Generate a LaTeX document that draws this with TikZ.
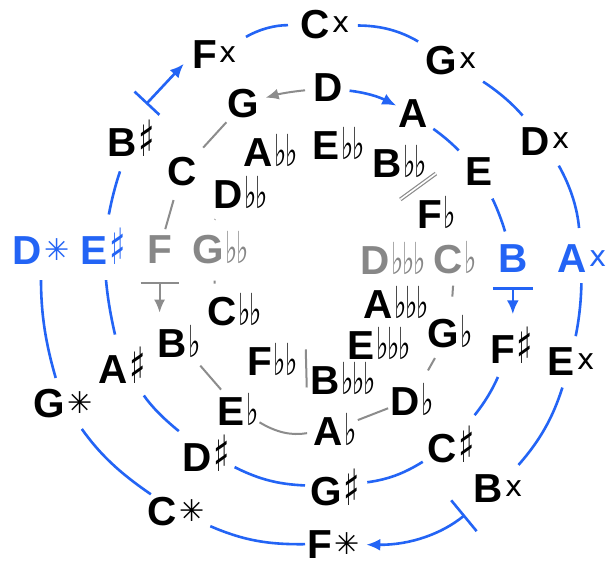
\documentclass[tikz,border=0pt]{standalone}
\usepackage{fontspec}
\usepackage{graphicx}
\setmainfont{Liberation Sans}
\newfontfamily\accfont{DejaVu Sans}
\usetikzlibrary{arrows.meta,calc}
\definecolor{bl}{RGB}{35,100,245}
\definecolor{grt}{RGB}{135,135,135}
\definecolor{grl}{RGB}{140,140,140}
\newcommand{\shg}{\scalebox{0.68}[1]{\accfont\mdseries\fontsize{50}{50}\selectfont ♯}}
\newcommand{\flg}{\scalebox{0.59}[1]{\accfont\mdseries\fontsize{44}{44}\selectfont ♭}}
\newcommand{\Sh}{\kern2pt\shg}
\newcommand{\Fl}{\kern2pt\flg}
\newcommand{\FFl}{\kern2pt\flg\kern-1pt\flg}
\newcommand{\FFFl}{\kern2pt\flg\kern-1pt\flg\kern-1pt\flg}
\newcommand{\Dsh}{\kern3pt\raisebox{6pt}{\accfont\mdseries\fontsize{29}{29}\selectfont x}}
\newcommand{\Tsh}{\kern3pt\raisebox{4pt}{\accfont\mdseries\fontsize{30}{30}\selectfont ✳}}
\begin{document}
\begin{tikzpicture}[x=1pt,y=-1pt,
  lab/.style={inner sep=0pt, anchor=base west, font=\fontsize{40.5}{40.5}\selectfont\bfseries, text=black},
  blab/.style={lab, text=bl},
  glab/.style={lab, text=grt},
  bline/.style={draw=bl, line width=2.6pt},
  gline/.style={draw=grl, line width=2pt},
  btip/.style={-{Latex[length=14pt,width=12pt]}},
  bbar/.style={{Bar[width=40pt]}-{Latex[length=14pt,width=12pt]}}
]
\fill[white] (0,0) rectangle (613,567);
\useasboundingbox (0,0) rectangle (613,567);
% outer ring
\node[lab] (Fx) at (192,69) {F\Dsh};
\node[lab] (Cx) at (300,39) {C\Dsh};
\node[lab] (Gx) at (425,75) {G\Dsh};
\node[lab] (Dx) at (520,155) {D\Dsh};
\node[blab] (Ax) at (557,272) {A\Dsh};
\node[lab] (Ex) at (547,375) {E\Dsh};
\node[lab] (Bx) at (473,502) {B\Dsh};
\node[lab] (Ft) at (307,558) {F\Tsh};
\node[lab] (Ct) at (147,525) {C\Tsh};
\node[lab] (Gt) at (33,417) {G\Tsh};
\node[blab] (Dt) at (12,264) {D\Tsh};
% middle ring
\node[blab] (Es) at (80,264) {E\Sh};
\node[lab] (Bs) at (107,157) {B\Sh};
\node[lab] (G) at (227,118) {G};
\node[lab] (D) at (313,102) {D};
\node[lab] (A) at (398,128) {A};
\node[lab] (E) at (465,185) {E};
\node[blab] (B) at (498,272) {B};
\node[lab] (Fs) at (490,363) {F\Sh};
\node[lab] (Cs) at (427,462) {C\Sh};
\node[lab] (Gs) at (310,505) {G\Sh};
\node[lab] (Ds) at (182,471) {D\Sh};
\node[lab] (As) at (98,383) {A\Sh};
% inner flats
\node[lab] (C) at (167,185) {C};
\node[glab] (F) at (147,263) {F};
\node[glab] (Gff) at (192,263) {G\FFl};
\node[lab] (Dff) at (213,208) {D\FFl};
\node[lab] (Aff) at (243,166) {A\FFl};
\node[lab] (Eff) at (312,160) {E\FFl};
\node[lab] (Bff) at (372,177) {B\FFl};
\node[lab] (Ff) at (417,228) {F\Fl};
\node[glab] (Cf) at (433,273) {C\Fl};
\node[glab] (Dfff) at (360,274) {D\FFFl};
\node[lab] (Afff) at (363,318) {A\FFFl};
\node[lab] (Gf) at (427,347) {G\Fl};
\node[lab] (Efff) at (347,359) {E\FFFl};
\node[lab] (Bfff) at (310,394) {B\FFFl};
\node[lab] (Fff) at (247,375) {F\FFl};
\node[lab] (Cff) at (207,325) {C\FFl};
\node[lab] (Bf) at (157,357) {B\Fl};
\node[lab] (Ef) at (217,425) {E\Fl};
\node[lab] (Af) at (313,445) {A\Fl};
\node[lab] (Df) at (390,415) {D\Fl};
% blue outer connectors
\draw[bline, shorten <=10pt, shorten >=12pt] (Fx) to[bend left=15] (Cx);
\draw[bline, shorten <=8pt, shorten >=10pt] (Cx) to[bend left=15] (Gx);
\draw[bline, shorten <=11pt, shorten >=15pt] (Gx) to[bend left=8] (Dx);
\draw[bline, shorten <=12pt, shorten >=16pt] (Dx) to[bend left=12] (Ax);
\draw[bline, shorten <=11pt, shorten >=11pt] (Ax) to[bend left=5] (Ex);
\draw[bline, shorten <=13pt, shorten >=12pt] (Ex) to[bend left=12] (Bx);
\draw[bline, bbar, shorten <=20pt, shorten >=6pt] (Bx) to[bend left=20] (Ft);
\draw[bline, shorten <=2pt, shorten >=6pt] (Ft) to[bend left=12] (Ct);
\draw[bline, shorten <=4pt, shorten >=14pt] (Ct) to[bend left=10] (Gt);
\draw[bline, shorten <=11pt, shorten >=16pt] (Gt) to[bend left=8] (Dt);
% blue middle connectors
\draw[bline, btip, shorten <=7pt, shorten >=2pt] (D) to[bend left=10] (A);
\draw[bline, shorten <=7pt, shorten >=9pt] (A) to[bend left=5] (E);
\draw[bline, shorten <=15pt, shorten >=13pt] (E) to[bend left=5] (B);
\draw[bline, bbar, shorten <=15pt, shorten >=12pt] (B.south) -- (B.south |- Fs.north);
\draw[bline, shorten <=15pt, shorten >=13pt] (Fs) to[bend left=8] (Cs);
\draw[bline, shorten <=5pt, shorten >=7pt] (Cs) to[bend left=12] (Gs);
\draw[bline, shorten <=5pt, shorten >=5pt] (Gs) to[bend left=12] (Ds);
\draw[bline, shorten <=5pt, shorten >=15pt] (Ds) to[bend left=8] (As);
\draw[bline, shorten <=12pt, shorten >=16pt] (As) to[bend left=4] (Es);
\draw[bline, shorten <=13pt, shorten >=15pt] (Es) to[bend left=4] (Bs);
\draw[bline, {Bar[width=34pt]}-{Latex[length=14pt,width=12pt]}, shorten <=22pt, shorten >=12pt] (Bs.north) -- (Fx.west);
% grey connectors
\draw[gline, -{Latex[length=13pt,width=11pt]}, shorten <=8pt, shorten >=7pt] (D) to[bend right=5] (G);
\draw[gline, shorten <=5pt, shorten >=12pt] (G) -- (C);
\draw[gline, shorten <=15pt, shorten >=6pt] (C) -- (F);
\draw[gline, {Bar[width=38pt]}-{Latex[length=13pt,width=11pt]}, shorten <=19pt, shorten >=12pt] (F.south) -- (F.south |- Bf.north);
\draw[gline, shorten <=11pt, shorten >=4pt] (Bf) -- (Ef);
\draw[gline, shorten <=1pt, shorten >=6pt] (Ef) to[bend right=20] (Af);
\draw[gline, shorten <=1pt, shorten >=2pt] (Af) -- (Df);
\draw[gline, shorten <=14pt, shorten >=12pt] (Df) -- (Gf);
\draw[gline, shorten <=12pt, shorten >=18pt] (Cf) -- (Gf);
\draw[gline, shorten <=14pt, shorten >=14pt] ([xshift=10pt]Dff.south west) -- ([xshift=15pt]Gff.north west);
\draw[gline, shorten <=17pt, shorten >=9pt] ([xshift=22pt]Gff.south west) -- ([xshift=8pt]Cff.north west);
\coordinate (mFB) at ($(Ff)!0.5!(Bff)$);
\draw[draw=grl, line width=1.2pt, double=white, double distance=1.6pt] ($(mFB)!22pt!90:(Bff)$) -- ($(mFB)!22pt!-90:(Bff)$);
\coordinate (mFB2) at ($(Fff)!0.5!(Bfff)$);
\draw[gline] ($(mFB2)+(-2,-19)$) -- ($(mFB2)+(-1,19)$);
\end{tikzpicture}
\end{document}
